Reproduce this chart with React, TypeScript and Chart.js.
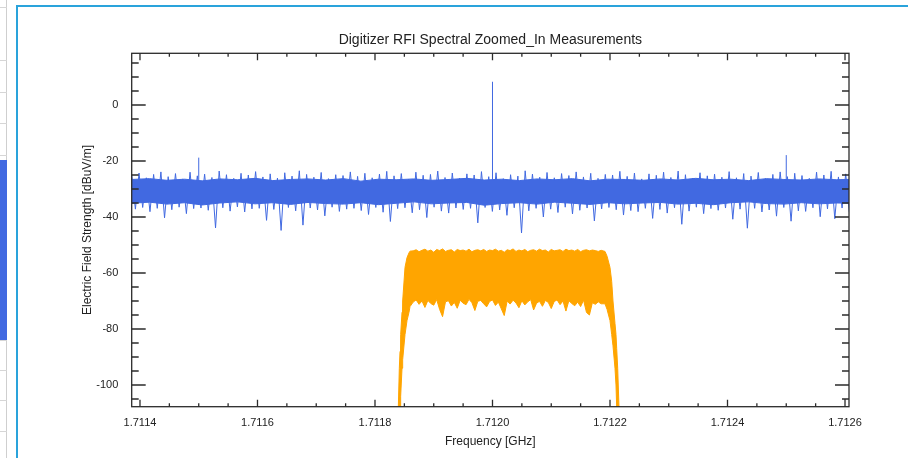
import React, { useEffect, useRef } from 'react';
import { Chart, registerables } from 'chart.js';

Chart.register(...registerables);

// ---------- text ----------
const TITLE = 'Digitizer RFI Spectral Zoomed_In Measurements';
const X_TITLE = 'Frequency [GHz]';
const Y_TITLE = 'Electric Field Strength [dBuV/m]';

// ---------- axes ----------
const xRange = [1.7113859, 1.7126068];
const yRange = [-107.75, 18.46];
const xMajorTicks = [1.7114, 1.7116, 1.7118, 1.712, 1.7122, 1.7124, 1.7126];
const xTickLabels = ['1.7114', '1.7116', '1.7118', '1.7120', '1.7122', '1.7124', '1.7126'];
const xMinorPerMajor = 4;
const yMajorTicks = [0, -20, -40, -60, -80, -100];
const yTickLabels = ['0', '-20', '-40', '-60', '-80', '-100'];
const yMinorTicks = [15, 10, 5, -5, -10, -15, -25, -30, -35, -45, -50, -55, -65, -70, -75, -85, -90, -95, -105];

// ---------- blue spectrum (noise floor) ----------
const blueNoiseStart = 1.711386;
const blueNoiseStep = 0.0000062;
const blueHigh = [
  -25.1, -24.3, -26.0, -24.8, -23.9, -25.6, -24.5, -26.4, -24.0, -25.3,
  -24.7, -25.9, -23.6, -24.9, -26.2, -24.4, -25.0, -23.8, -25.7, -24.6,
  -26.1, -24.2, -25.4, -23.5, -24.8, -25.8, -24.1, -26.3, -24.9, -25.2,
  -23.9, -25.5, -24.4, -26.0, -24.7, -23.7, -25.3, -24.5, -26.5, -24.0,
  -25.1, -24.8, -23.6, -25.9, -24.3, -26.1, -24.6, -25.0, -23.8, -25.6,
  -24.2, -26.3, -24.9, -25.4, -23.5, -24.7, -25.8, -24.1, -26.0, -24.5,
  -25.2, -23.9, -25.7, -24.4, -26.2, -24.8, -25.0, -23.7, -25.5, -24.3,
  -26.4, -24.6, -25.1, -24.0, -25.9, -23.6, -24.9, -26.1, -24.2, -25.3,
  -24.7, -25.8, -23.8, -26.0, -24.5, -25.4, -24.1, -26.3, -24.8, -23.9,
  -25.6, -24.4, -25.2, -26.2, -24.0, -25.0, -23.7, -25.7, -24.6, -25.1,
];
const blueLow = [
  -37.2, -36.6, -38.1, -36.9, -40.3, -37.4, -36.5, -38.8, -37.0, -36.8,
  -37.6, -43.9, -36.7, -37.9, -36.4, -38.2, -37.1, -36.9, -41.2, -37.3,
  -44.8, -36.6, -37.8, -42.9, -36.8, -37.5, -39.6, -36.5, -38.0, -37.2,
  -36.9, -37.7, -39.1, -36.6, -38.3, -41.6, -37.0, -36.7, -38.5, -37.4,
  -40.2, -36.5, -37.9, -38.6, -36.8, -37.3, -36.9, -42.1, -36.6, -38.0,
  -37.5, -39.4, -36.7, -45.7, -37.8, -36.9, -40.0, -37.2, -38.4, -36.5,
  -38.9, -37.6, -36.8, -41.4, -37.1, -36.6, -37.4, -39.3, -37.7, -38.1,
  -36.9, -40.5, -37.3, -38.6, -36.7, -42.6, -37.9, -36.5, -38.8, -37.0,
  -37.6, -36.8, -40.8, -37.2, -44.0, -36.9, -38.2, -37.5, -39.7, -36.6,
  -41.5, -37.8, -38.0, -36.7, -39.9, -37.1, -40.6, -36.8, -38.3, -39.2,
];
const blueCoreStart = 1.711386;
const blueCoreStep = 0.00003;
const blueCoreTop = [
  -26.6, -26.3, -26.9, -26.5, -27.1, -26.4, -26.7, -26.2, -27.0, -26.6,
  -26.4, -26.8, -26.3, -27.2, -26.5, -26.7, -26.4, -26.9, -26.6, -26.2,
  -26.8, -26.5, -27.0, -26.4, -26.7, -26.3, -27.1, -26.5, -26.6, -26.9,
  -26.4, -26.8, -26.2, -26.7, -26.5, -27.0, -26.3, -26.6, -26.8, -26.4,
  -26.7, -26.5,
];
const blueCoreBottom = [
  -35.1, -34.7, -35.4, -34.9, -35.7, -35.0, -34.6, -35.3, -34.9, -35.5,
  -34.8, -35.2, -35.4, -34.9, -35.6, -35.1, -34.6, -35.3, -35.0, -34.8,
  -35.8, -35.2, -34.9, -35.4, -34.7, -35.1, -35.5, -34.9, -35.3, -35.0,
  -34.8, -35.4, -35.1, -35.6, -34.9, -34.6, -35.2, -35.4, -34.9, -35.3,
  -35.0, -35.1,
];
const spikeFreqs = [1.7115, 1.712, 1.7125];
const spikePeaks = [-18.8, 8.3, -17.9];
const spikeBase = -27;

// ---------- orange spectrum (digitizer band) ----------
const orangeEdgeLeftFreq = [1.711838, 1.7118397, 1.7118414, 1.7118426, 1.7118437, 1.711846, 1.7118471, 1.7118511, 1.7118545, 1.7118579, 1.7118596];
const orangeInnerStart = 1.711865;
const orangeInnerStep = 0.000005;
const orangeEdgeRightFreq = [1.7121915, 1.712195, 1.7122, 1.7122029, 1.7122051, 1.7122085, 1.7122102, 1.7122114, 1.7122131, 1.7122153, 1.712217];
const orangeTop = [
  -115, -108, -94, -88, -82, -74, -70, -58, -54.5, -52.8, -52.2,
  -52.1, -51.7, -52.4, -51.9, -51.5, -52.2, -51.8, -52.6, -51.6, -52.0,
  -51.4, -52.3, -51.9, -51.7, -52.5, -51.6, -52.0, -51.8, -52.2, -51.5,
  -52.4, -51.9, -51.7, -52.1, -51.6, -52.3, -51.8, -52.0, -51.5, -52.2,
  -51.9, -52.6, -51.7, -52.0, -51.4, -52.3, -51.8, -52.1, -51.6, -52.4,
  -51.9, -51.7, -52.2, -51.5, -52.0, -51.8, -52.5, -51.6, -52.1, -51.9,
  -51.7, -52.3, -51.5, -52.0, -51.8, -52.2, -51.6, -52.4, -51.9, -51.7,
  -52.1, -51.8, -52.0, -52.3, -51.9,
  -52.3, -54, -58, -63, -70, -78, -82, -87, -94, -108, -115,
];
const orangeBottom = [
  -115, -115, -113, -108, -104, -94, -91, -82, -77, -74, -72,
  -70.4, -69.6, -71.2, -70.0, -72.3, -69.8, -70.9, -71.5, -69.5, -73.0,
  -75.6, -70.3, -69.9, -71.8, -70.5, -72.6, -69.7, -70.8, -71.3, -69.4,
  -70.6, -73.4, -70.1, -69.8, -71.0, -72.1, -70.2, -69.6, -71.6, -70.4,
  -72.8, -75.2, -70.0, -71.1, -69.7, -70.7, -72.4, -69.9, -71.4, -70.3,
  -69.5, -73.2, -70.8, -70.1, -71.9, -69.8, -70.5, -72.7, -70.2, -69.6,
  -71.3, -70.0, -73.6, -69.9, -70.9, -71.7, -70.4, -72.0, -69.7, -74.1,
  -75.0, -70.6, -71.2, -70.3, -71.0,
  -71, -73, -77, -82, -86, -94, -100, -108, -113, -115, -115,
];

// ---------- colours ----------
const BLUE = 'rgb(65,105,225)';
const ORANGE = 'rgb(255,165,0)';
const AXIS = '#2b2b2b';
const TEXT = '#222222';
const FONT = '"Liberation Sans", Arial, Helvetica, sans-serif';

// left neighbour strip (decoration from the page)
const stripLines = [7, 60, 92, 123, 155, 340, 370, 400, 431];

function buildData() {
  const zig: { x: number; y: number }[] = [];
  for (let k = 0; k < blueHigh.length; k++) {
    zig.push({ x: blueNoiseStart + 2 * k * blueNoiseStep, y: blueHigh[k] });
    zig.push({ x: blueNoiseStart + (2 * k + 1) * blueNoiseStep, y: blueLow[k] });
  }
  const coreTop = blueCoreTop.map((y, i) => ({ x: blueCoreStart + i * blueCoreStep, y }));
  const coreBottom = blueCoreBottom.map((y, i) => ({ x: blueCoreStart + i * blueCoreStep, y }));
  const spikes: { x: number; y: number | null }[] = [];
  spikeFreqs.forEach((f, i) => {
    spikes.push({ x: f, y: spikeBase }, { x: f, y: spikePeaks[i] }, { x: f, y: null });
  });
  const innerCount = orangeTop.length - orangeEdgeLeftFreq.length - orangeEdgeRightFreq.length;
  const inner = Array.from({ length: innerCount }, (_, i) => orangeInnerStart + i * orangeInnerStep);
  const oFreq = [...orangeEdgeLeftFreq, ...inner, ...orangeEdgeRightFreq];
  const oTop = orangeTop.map((y, i) => ({ x: oFreq[i], y }));
  const oBottom = orangeBottom.map((y, i) => ({ x: oFreq[i], y }));
  return { zig, coreTop, coreBottom, spikes, oTop, oBottom };
}

const framePlugin = {
  id: 'idlFrame',
  afterDatasetsDraw(chart: any) {
    const { ctx, chartArea } = chart;
    const { left, right, top, bottom } = chartArea;
    const xs = chart.scales.x;
    const ys = chart.scales.y;
    ctx.save();
    ctx.strokeStyle = AXIS;
    ctx.lineWidth = 1.3;
    ctx.strokeRect(left, top, right - left, bottom - top);
    const xMinor: number[] = [];
    for (let i = 0; i < xMajorTicks.length - 1; i++) {
      for (let k = 1; k < xMinorPerMajor; k++) {
        xMinor.push(xMajorTicks[i] + ((xMajorTicks[i + 1] - xMajorTicks[i]) * k) / xMinorPerMajor);
      }
    }
    ctx.beginPath();
    const xt = (v: number, len: number) => {
      const p = xs.getPixelForValue(v);
      ctx.moveTo(p, bottom);
      ctx.lineTo(p, bottom - len);
      ctx.moveTo(p, top);
      ctx.lineTo(p, top + len);
    };
    const yt = (v: number, len: number) => {
      const p = ys.getPixelForValue(v);
      ctx.moveTo(left, p);
      ctx.lineTo(left + len, p);
      ctx.moveTo(right, p);
      ctx.lineTo(right - len, p);
    };
    xMajorTicks.forEach((v) => xt(v, 7));
    xMinor.forEach((v) => xt(v, 3.5));
    yMajorTicks.forEach((v) => yt(v, 14));
    yMinorTicks.forEach((v) => yt(v, 7));
    ctx.stroke();
    ctx.fillStyle = TEXT;
    ctx.font = `14px ${FONT}`;
    ctx.textAlign = 'center';
    ctx.textBaseline = 'middle';
    ctx.fillText(TITLE, (left + right) / 2, 40.5);
    ctx.restore();
  },
};

export default function App() {
  const ref = useRef<HTMLCanvasElement>(null);
  useEffect(() => {
    const d = buildData();
    const line = { pointRadius: 0, tension: 0 };
    const chart = new Chart(ref.current as HTMLCanvasElement, {
      type: 'line',
      data: {
        datasets: [
          { ...line, data: d.coreTop, borderColor: BLUE, borderWidth: 1, fill: false },
          { ...line, data: d.coreBottom, borderColor: BLUE, borderWidth: 1, fill: '-1', backgroundColor: BLUE },
          { ...line, data: d.zig, borderColor: BLUE, borderWidth: 1, fill: false },
          { ...line, data: d.spikes, borderColor: BLUE, borderWidth: 1, fill: false, spanGaps: false },
          { ...line, data: d.oTop, borderColor: ORANGE, borderWidth: 1, fill: false },
          { ...line, data: d.oBottom, borderColor: ORANGE, borderWidth: 1, fill: '-1', backgroundColor: ORANGE },
        ] as any,
      },
      options: {
        responsive: false,
        animation: false,
        events: [],
        layout: { padding: { top: 53.3, right: 59, left: 0, bottom: 0 } },
        plugins: { legend: { display: false }, tooltip: { enabled: false }, title: { display: false } },
        scales: {
          x: {
            type: 'linear',
            min: xRange[0],
            max: xRange[1],
            grid: { display: false, drawTicks: false },
            border: { display: false },
            afterBuildTicks: (s: any) => {
              s.ticks = xMajorTicks.map((v) => ({ value: v }));
            },
            afterFit: (s: any) => {
              s.height = 51.3;
            },
            ticks: {
              autoSkip: false,
              maxRotation: 0,
              padding: 10,
              color: TEXT,
              font: { size: 11, family: FONT },
              callback: (v: any) => {
                const i = xMajorTicks.findIndex((t) => Math.abs(t - Number(v)) < 1e-9);
                return i >= 0 ? xTickLabels[i] : '';
              },
            },
            title: {
              display: true,
              text: X_TITLE,
              color: TEXT,
              font: { size: 12, family: FONT },
              padding: { top: 0, bottom: 9.1 },
            },
          },
          y: {
            type: 'linear',
            min: yRange[0],
            max: yRange[1],
            grid: { display: false, drawTicks: false },
            border: { display: false },
            afterBuildTicks: (s: any) => {
              s.ticks = yMajorTicks.map((v) => ({ value: v }));
            },
            afterFit: (s: any) => {
              s.width = 131.7;
            },
            ticks: {
              padding: 13.4,
              color: TEXT,
              font: { size: 11, family: FONT },
              callback: (v: any) => {
                const i = yMajorTicks.indexOf(Number(v));
                return i >= 0 ? yTickLabels[i] : '';
              },
            },
            title: {
              display: true,
              text: Y_TITLE,
              color: TEXT,
              font: { size: 12, family: FONT },
              padding: { top: 80.3, bottom: 0 },
            },
          },
        },
      } as any,
      plugins: [framePlugin],
    });
    return () => chart.destroy();
  }, []);

  return (
    <div style={{ position: 'fixed', left: 0, top: 0, width: 908, height: 458, background: '#fff', overflow: 'hidden' }}>
      <div style={{ position: 'absolute', left: 6, top: 0, width: 1, height: 458, background: '#cfcfcf' }} />
      {stripLines.map((y) => (
        <div key={y} style={{ position: 'absolute', left: 0, top: y, width: 7, height: 1, background: '#d6d6d6' }} />
      ))}
      <div style={{ position: 'absolute', left: 0, top: 160, width: 7, height: 180, background: BLUE }} />
      <div style={{ position: 'absolute', left: 16, top: 5, width: 1000, height: 1000, border: '2px solid #2aa3db', boxSizing: 'border-box' }} />
      <canvas ref={ref} width={908} height={458} style={{ position: 'absolute', left: 0, top: 0 }} />
    </div>
  );
}
